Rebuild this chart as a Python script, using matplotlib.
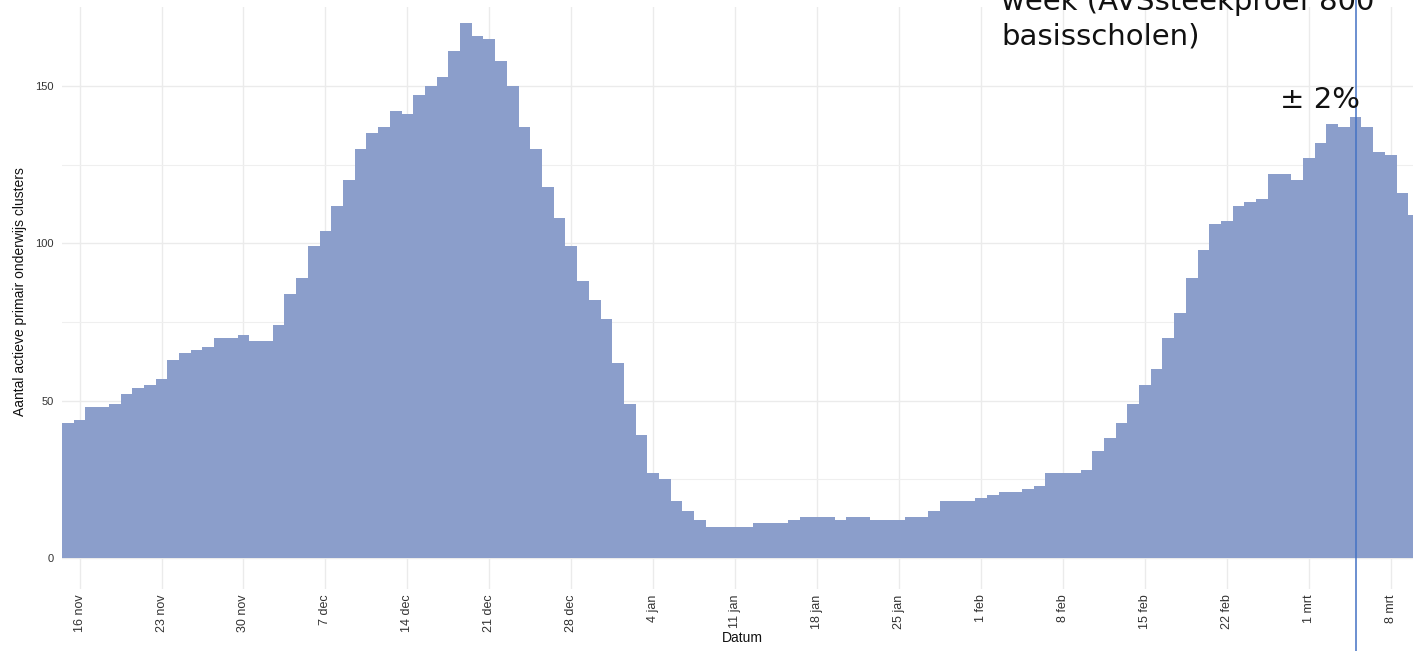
import numpy as np
import matplotlib
matplotlib.use("Agg")
import matplotlib.pyplot as plt
import matplotlib.dates as mdates
from matplotlib.ticker import FixedLocator

# ---------------- data ----------------
start_date = "2020-11-15"
values = [43, 44, 48, 48, 49, 52, 54, 55, 57, 63,
          65, 66, 67, 70, 70, 71, 69, 69, 74, 84,
          89, 99, 104, 112, 120, 130, 135, 137, 142, 141,
          147, 150, 153, 161, 170, 166, 165, 158, 150, 137,
          130, 118, 108, 99, 88, 82, 76, 62, 49, 39,
          27, 25, 18, 15, 12, 10, 10, 10, 10, 11,
          11, 11, 12, 13, 13, 13, 12, 13, 13, 12,
          12, 12, 13, 13, 15, 18, 18, 18, 19, 20,
          21, 21, 22, 23, 27, 27, 27, 28, 34, 38,
          43, 49, 55, 60, 70, 78, 89, 98, 106, 107,
          112, 113, 114, 122, 122, 120, 127, 132, 138, 137,
          140, 137, 129, 128, 116, 109]
tick_dates = ["2020-11-16", "2020-11-23", "2020-11-30", "2020-12-07",
              "2020-12-14", "2020-12-21", "2020-12-28", "2021-01-04",
              "2021-01-11", "2021-01-18", "2021-01-25", "2021-02-01",
              "2021-02-08", "2021-02-15", "2021-02-22", "2021-03-01",
              "2021-03-08"]
tick_labels = ["16 nov", "23 nov", "30 nov", "7 dec", "14 dec", "21 dec",
               "28 dec", "4 jan", "11 jan", "18 jan", "25 jan", "1 feb",
               "8 feb", "15 feb", "22 feb", "1 mrt", "8 mrt"]
y_ticks = [0, 50, 100, 150]
y_minor = [25, 75, 125]
marker_date = "2021-03-05"
note_line1 = "week (AVSsteekproef 800"
note_line2 = "basisscholen)"
note_pct = "± 2%"
y_title = "Aantal actieve primair onderwijs clusters"
x_title = "Datum"

# ---------------- figure ----------------
W, H = 1413, 651
fig = plt.figure(figsize=(W / 100, H / 100), dpi=100)
ax = fig.add_axes([62 / W, 1 - 589 / H, (W - 62) / W, (589 - 7) / H])

dates = np.arange(np.datetime64(start_date), np.datetime64(start_date) + len(values))
dnum = mdates.date2num(dates)
ax.bar(dnum, values, width=1.0, color="#8B9ECB", edgecolor="none", zorder=2)

x0 = dnum[0]
ax.set_xlim(x0 - 0.5, x0 + 114.9)
ax.set_ylim(-9.85, 175.1)

tnum = mdates.date2num(np.array(tick_dates, dtype="datetime64[D]"))
ax.set_xticks(tnum)
ax.set_xticklabels(tick_labels, rotation=90, fontsize=9, color="#333333",
                   family="Liberation Sans")
ax.set_yticks(y_ticks)
ax.set_yticklabels([str(v) for v in y_ticks], fontsize=8, color="#333333",
                   family="Liberation Sans")
ax.yaxis.set_minor_locator(FixedLocator(y_minor))
ax.tick_params(axis="x", length=0, pad=4)
ax.tick_params(axis="y", length=0, pad=6)
ax.tick_params(axis="y", which="minor", length=0)

ax.grid(True, which="major", color="#EBEBEB", linewidth=1.0, zorder=0)
ax.grid(True, which="minor", axis="y", color="#EFEFEF", linewidth=0.8, zorder=0)
ax.set_axisbelow(True)
for s in ax.spines.values():
    s.set_visible(False)

# axis titles
fig.text(20 / W, 1 - 292 / H, y_title, rotation=90, ha="center", va="center",
         fontsize=10, family="Liberation Sans", color="#111111")
fig.text(742 / W, 1 - 638 / H, x_title, ha="center", va="center",
         fontsize=10, family="Liberation Sans", color="#111111")

# vertical marker line (spans full figure height)
mnum = mdates.date2num(np.datetime64(marker_date))
ax.axvline(mnum, ymin=-0.11, ymax=1.02, color="#4472C4", linewidth=1.1,
           clip_on=False, zorder=5)

# overlay annotations (first line is cut by the top edge, as in the reference)
fig.text(1001 / W, 1 - 10 / H, note_line1, ha="left", va="baseline",
         fontsize=21, family="DejaVu Sans", color="#111111")
fig.text(1001 / W, 1 - 45 / H, note_line2, ha="left", va="baseline",
         fontsize=21, family="DejaVu Sans", color="#111111")
fig.text(1280 / W, 1 - 108 / H, note_pct, ha="left", va="baseline",
         fontsize=21, family="DejaVu Sans", color="#111111")

fig.savefig("out.png", dpi=100)
